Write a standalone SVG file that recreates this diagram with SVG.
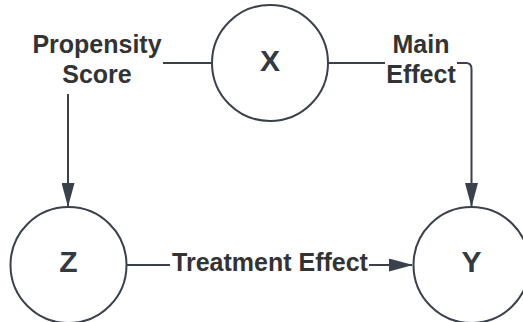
<svg xmlns="http://www.w3.org/2000/svg" width="523" height="322" viewBox="0 0 523 322">
<defs>
<style>
.node circle{fill:#ffffff;stroke:#3a414a;stroke-width:2}
.node text{font-family:"Liberation Sans",Arial,sans-serif;font-weight:bold;font-size:30px;fill:#333a42;text-anchor:middle}
.edge{fill:none;stroke:#3a414a;stroke-width:2}
.lbl{font-family:"Liberation Sans",Arial,sans-serif;font-weight:bold;font-size:25px;fill:#333333;text-anchor:middle}
</style>
<marker id="arr" viewBox="0 0 24 13" refX="23" refY="6.5" markerWidth="24" markerHeight="13" markerUnits="userSpaceOnUse" orient="auto">
<path d="M0,0 L24,6.5 L0,13 Z" fill="#3a414a"/>
</marker>
</defs>
<rect width="523" height="322" fill="#ffffff"/>
<g id="connectors">
<path class="edge" d="M163,63 L212,63"/>
<path class="edge" d="M68,94 L68,206" marker-end="url(#arr)"/>
<path class="edge" d="M328,63 L385,63"/>
<path class="edge" d="M457,63 L466,63 Q471.5,63 471.5,69 L471.5,206" marker-end="url(#arr)"/>
<path class="edge" d="M127,265 L170,265"/>
<path class="edge" d="M369,265 L412,265" marker-end="url(#arr)"/>
<text class="lbl" x="97" y="53">Propensity</text>
<text class="lbl" x="97" y="83">Score</text>
<text class="lbl" x="421" y="53">Main</text>
<text class="lbl" x="421" y="83">Effect</text>
<text class="lbl" x="270" y="271">Treatment Effect</text>
</g>
<g id="node-X" class="node">
<circle cx="270" cy="63" r="58"/>
<text x="270" y="71">X</text>
</g>
<g id="node-Z" class="node">
<circle cx="68.5" cy="265" r="58"/>
<text x="68.5" y="272">Z</text>
</g>
<g id="node-Y" class="node">
<circle cx="471.5" cy="265" r="58"/>
<text x="471.5" y="272">Y</text>
</g>
</svg>
